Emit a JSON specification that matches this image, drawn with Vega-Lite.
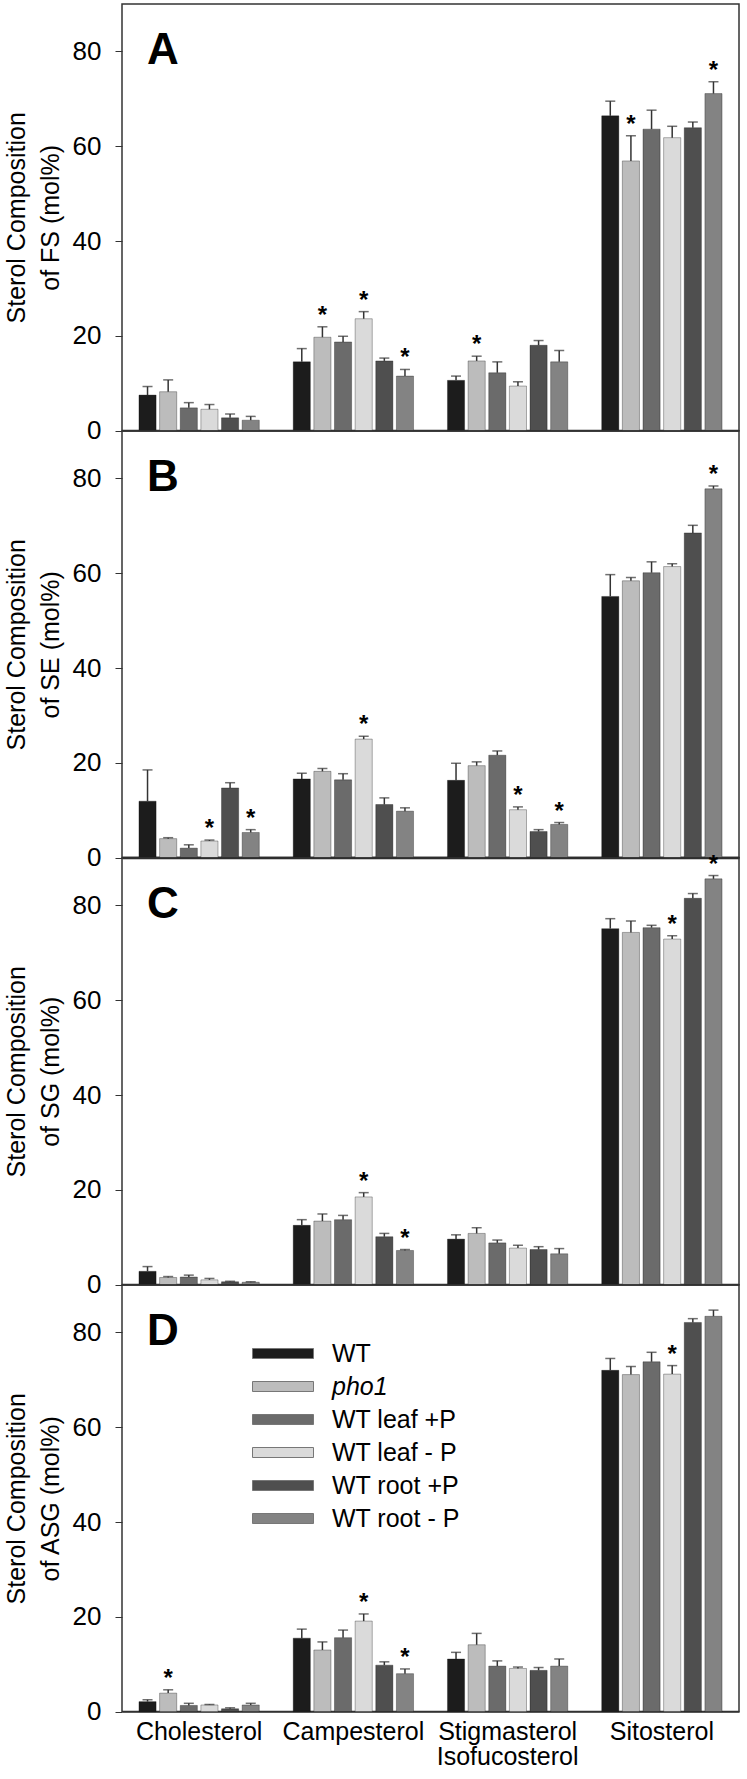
{
  "$schema": "https://vega.github.io/schema/vega-lite/v6.json",
  "padding": {"left": 3, "top": 3, "right": 4, "bottom": 2},
  "background": "white",
  "spacing": 0,
  "bounds": "flush",
  "config": {
    "font": "Liberation Sans",
    "view": {"stroke": "#333", "strokeWidth": 1.5},
    "axis": {"grid": false, "labelColor": "#000", "titleColor": "#000", "domainColor": "#333", "tickColor": "#333"}
  },
  "resolve": {"legend": {"color": "independent"}},
  "datasets": {
    "d": [
      {"panel": "A", "sterol": "Cholesterol", "line": "WT", "value": 7.5, "err": 9.3, "star": ""},
      {"panel": "A", "sterol": "Cholesterol", "line": "pho1", "value": 8.2, "err": 10.7, "star": ""},
      {"panel": "A", "sterol": "Cholesterol", "line": "WT leaf +P", "value": 4.8, "err": 5.9, "star": ""},
      {"panel": "A", "sterol": "Cholesterol", "line": "WT leaf - P", "value": 4.5, "err": 5.5, "star": ""},
      {"panel": "A", "sterol": "Cholesterol", "line": "WT root +P", "value": 2.7, "err": 3.5, "star": ""},
      {"panel": "A", "sterol": "Cholesterol", "line": "WT root - P", "value": 2.2, "err": 3.0, "star": ""},
      {"panel": "A", "sterol": "Campesterol", "line": "WT", "value": 14.5, "err": 17.3, "star": ""},
      {"panel": "A", "sterol": "Campesterol", "line": "pho1", "value": 19.7, "err": 21.9, "star": "*"},
      {"panel": "A", "sterol": "Campesterol", "line": "WT leaf +P", "value": 18.7, "err": 19.9, "star": ""},
      {"panel": "A", "sterol": "Campesterol", "line": "WT leaf - P", "value": 23.6, "err": 25.1, "star": "*"},
      {"panel": "A", "sterol": "Campesterol", "line": "WT root +P", "value": 14.7, "err": 15.3, "star": ""},
      {"panel": "A", "sterol": "Campesterol", "line": "WT root - P", "value": 11.5, "err": 12.9, "star": "*"},
      {"panel": "A", "sterol": "Stigmasterol Isofucosterol", "line": "WT", "value": 10.6, "err": 11.5, "star": ""},
      {"panel": "A", "sterol": "Stigmasterol Isofucosterol", "line": "pho1", "value": 14.7, "err": 15.7, "star": "*"},
      {"panel": "A", "sterol": "Stigmasterol Isofucosterol", "line": "WT leaf +P", "value": 12.2, "err": 14.5, "star": ""},
      {"panel": "A", "sterol": "Stigmasterol Isofucosterol", "line": "WT leaf - P", "value": 9.4, "err": 10.3, "star": ""},
      {"panel": "A", "sterol": "Stigmasterol Isofucosterol", "line": "WT root +P", "value": 18.0, "err": 19.0, "star": ""},
      {"panel": "A", "sterol": "Stigmasterol Isofucosterol", "line": "WT root - P", "value": 14.5, "err": 16.9, "star": ""},
      {"panel": "A", "sterol": "Sitosterol", "line": "WT", "value": 66.4, "err": 69.5, "star": ""},
      {"panel": "A", "sterol": "Sitosterol", "line": "pho1", "value": 56.9, "err": 62.2, "star": "*"},
      {"panel": "A", "sterol": "Sitosterol", "line": "WT leaf +P", "value": 63.6, "err": 67.6, "star": ""},
      {"panel": "A", "sterol": "Sitosterol", "line": "WT leaf - P", "value": 61.8, "err": 64.2, "star": ""},
      {"panel": "A", "sterol": "Sitosterol", "line": "WT root +P", "value": 63.9, "err": 65.1, "star": ""},
      {"panel": "A", "sterol": "Sitosterol", "line": "WT root - P", "value": 71.1, "err": 73.6, "star": "*"},

      {"panel": "B", "sterol": "Cholesterol", "line": "WT", "value": 11.9, "err": 18.5, "star": ""},
      {"panel": "B", "sterol": "Cholesterol", "line": "pho1", "value": 4.0, "err": 4.2, "star": ""},
      {"panel": "B", "sterol": "Cholesterol", "line": "WT leaf +P", "value": 2.0, "err": 2.7, "star": ""},
      {"panel": "B", "sterol": "Cholesterol", "line": "WT leaf - P", "value": 3.5, "err": 3.7, "star": "*"},
      {"panel": "B", "sterol": "Cholesterol", "line": "WT root +P", "value": 14.7, "err": 15.8, "star": ""},
      {"panel": "B", "sterol": "Cholesterol", "line": "WT root - P", "value": 5.3, "err": 5.9, "star": "*"},
      {"panel": "B", "sterol": "Campesterol", "line": "WT", "value": 16.6, "err": 17.8, "star": ""},
      {"panel": "B", "sterol": "Campesterol", "line": "pho1", "value": 18.2, "err": 18.8, "star": ""},
      {"panel": "B", "sterol": "Campesterol", "line": "WT leaf +P", "value": 16.4, "err": 17.7, "star": ""},
      {"panel": "B", "sterol": "Campesterol", "line": "WT leaf - P", "value": 25.0, "err": 25.6, "star": "*"},
      {"panel": "B", "sterol": "Campesterol", "line": "WT root +P", "value": 11.2, "err": 12.6, "star": ""},
      {"panel": "B", "sterol": "Campesterol", "line": "WT root - P", "value": 9.8, "err": 10.5, "star": ""},
      {"panel": "B", "sterol": "Stigmasterol Isofucosterol", "line": "WT", "value": 16.3, "err": 19.9, "star": ""},
      {"panel": "B", "sterol": "Stigmasterol Isofucosterol", "line": "pho1", "value": 19.4, "err": 20.2, "star": ""},
      {"panel": "B", "sterol": "Stigmasterol Isofucosterol", "line": "WT leaf +P", "value": 21.6, "err": 22.5, "star": ""},
      {"panel": "B", "sterol": "Stigmasterol Isofucosterol", "line": "WT leaf - P", "value": 10.1, "err": 10.7, "star": "*"},
      {"panel": "B", "sterol": "Stigmasterol Isofucosterol", "line": "WT root +P", "value": 5.5, "err": 5.9, "star": ""},
      {"panel": "B", "sterol": "Stigmasterol Isofucosterol", "line": "WT root - P", "value": 7.0, "err": 7.4, "star": "*"},
      {"panel": "B", "sterol": "Sitosterol", "line": "WT", "value": 55.1, "err": 59.7, "star": ""},
      {"panel": "B", "sterol": "Sitosterol", "line": "pho1", "value": 58.4, "err": 59.1, "star": ""},
      {"panel": "B", "sterol": "Sitosterol", "line": "WT leaf +P", "value": 60.1, "err": 62.4, "star": ""},
      {"panel": "B", "sterol": "Sitosterol", "line": "WT leaf - P", "value": 61.4, "err": 62.0, "star": ""},
      {"panel": "B", "sterol": "Sitosterol", "line": "WT root +P", "value": 68.5, "err": 70.1, "star": ""},
      {"panel": "B", "sterol": "Sitosterol", "line": "WT root - P", "value": 77.8, "err": 78.4, "star": "*"},

      {"panel": "C", "sterol": "Cholesterol", "line": "WT", "value": 2.8, "err": 3.8, "star": ""},
      {"panel": "C", "sterol": "Cholesterol", "line": "pho1", "value": 1.5, "err": 1.7, "star": ""},
      {"panel": "C", "sterol": "Cholesterol", "line": "WT leaf +P", "value": 1.6, "err": 2.0, "star": ""},
      {"panel": "C", "sterol": "Cholesterol", "line": "WT leaf - P", "value": 1.0, "err": 1.3, "star": ""},
      {"panel": "C", "sterol": "Cholesterol", "line": "WT root +P", "value": 0.6, "err": 0.7, "star": ""},
      {"panel": "C", "sterol": "Cholesterol", "line": "WT root - P", "value": 0.5, "err": 0.6, "star": ""},
      {"panel": "C", "sterol": "Campesterol", "line": "WT", "value": 12.5, "err": 13.7, "star": ""},
      {"panel": "C", "sterol": "Campesterol", "line": "pho1", "value": 13.4, "err": 14.9, "star": ""},
      {"panel": "C", "sterol": "Campesterol", "line": "WT leaf +P", "value": 13.7, "err": 14.6, "star": ""},
      {"panel": "C", "sterol": "Campesterol", "line": "WT leaf - P", "value": 18.5, "err": 19.4, "star": "*"},
      {"panel": "C", "sterol": "Campesterol", "line": "WT root +P", "value": 10.1, "err": 10.8, "star": ""},
      {"panel": "C", "sterol": "Campesterol", "line": "WT root - P", "value": 7.2, "err": 7.4, "star": "*"},
      {"panel": "C", "sterol": "Stigmasterol Isofucosterol", "line": "WT", "value": 9.6, "err": 10.5, "star": ""},
      {"panel": "C", "sterol": "Stigmasterol Isofucosterol", "line": "pho1", "value": 10.8, "err": 12.0, "star": ""},
      {"panel": "C", "sterol": "Stigmasterol Isofucosterol", "line": "WT leaf +P", "value": 8.8, "err": 9.4, "star": ""},
      {"panel": "C", "sterol": "Stigmasterol Isofucosterol", "line": "WT leaf - P", "value": 7.7, "err": 8.3, "star": ""},
      {"panel": "C", "sterol": "Stigmasterol Isofucosterol", "line": "WT root +P", "value": 7.4, "err": 8.0, "star": ""},
      {"panel": "C", "sterol": "Stigmasterol Isofucosterol", "line": "WT root - P", "value": 6.5, "err": 7.6, "star": ""},
      {"panel": "C", "sterol": "Sitosterol", "line": "WT", "value": 75.1, "err": 77.2, "star": ""},
      {"panel": "C", "sterol": "Sitosterol", "line": "pho1", "value": 74.3, "err": 76.7, "star": ""},
      {"panel": "C", "sterol": "Sitosterol", "line": "WT leaf +P", "value": 75.3, "err": 75.8, "star": ""},
      {"panel": "C", "sterol": "Sitosterol", "line": "WT leaf - P", "value": 72.9, "err": 73.6, "star": "*"},
      {"panel": "C", "sterol": "Sitosterol", "line": "WT root +P", "value": 81.5, "err": 82.5, "star": ""},
      {"panel": "C", "sterol": "Sitosterol", "line": "WT root - P", "value": 85.6, "err": 86.3, "star": "*"},

      {"panel": "D", "sterol": "Cholesterol", "line": "WT", "value": 2.1, "err": 2.5, "star": ""},
      {"panel": "D", "sterol": "Cholesterol", "line": "pho1", "value": 3.9, "err": 4.6, "star": "*"},
      {"panel": "D", "sterol": "Cholesterol", "line": "WT leaf +P", "value": 1.3, "err": 1.75, "star": ""},
      {"panel": "D", "sterol": "Cholesterol", "line": "WT leaf - P", "value": 1.4, "err": 1.5, "star": ""},
      {"panel": "D", "sterol": "Cholesterol", "line": "WT root +P", "value": 0.6, "err": 0.8, "star": ""},
      {"panel": "D", "sterol": "Cholesterol", "line": "WT root - P", "value": 1.4, "err": 1.75, "star": ""},
      {"panel": "D", "sterol": "Campesterol", "line": "WT", "value": 15.5, "err": 17.4, "star": ""},
      {"panel": "D", "sterol": "Campesterol", "line": "pho1", "value": 13.0, "err": 14.7, "star": ""},
      {"panel": "D", "sterol": "Campesterol", "line": "WT leaf +P", "value": 15.6, "err": 17.2, "star": ""},
      {"panel": "D", "sterol": "Campesterol", "line": "WT leaf - P", "value": 19.1, "err": 20.6, "star": "*"},
      {"panel": "D", "sterol": "Campesterol", "line": "WT root +P", "value": 9.8, "err": 10.5, "star": ""},
      {"panel": "D", "sterol": "Campesterol", "line": "WT root - P", "value": 8.0, "err": 9.0, "star": "*"},
      {"panel": "D", "sterol": "Stigmasterol Isofucosterol", "line": "WT", "value": 11.1, "err": 12.5, "star": ""},
      {"panel": "D", "sterol": "Stigmasterol Isofucosterol", "line": "pho1", "value": 14.1, "err": 16.5, "star": ""},
      {"panel": "D", "sterol": "Stigmasterol Isofucosterol", "line": "WT leaf +P", "value": 9.6, "err": 10.7, "star": ""},
      {"panel": "D", "sterol": "Stigmasterol Isofucosterol", "line": "WT leaf - P", "value": 9.1, "err": 9.4, "star": ""},
      {"panel": "D", "sterol": "Stigmasterol Isofucosterol", "line": "WT root +P", "value": 8.7, "err": 9.3, "star": ""},
      {"panel": "D", "sterol": "Stigmasterol Isofucosterol", "line": "WT root - P", "value": 9.6, "err": 11.1, "star": ""},
      {"panel": "D", "sterol": "Sitosterol", "line": "WT", "value": 72.0, "err": 74.5, "star": ""},
      {"panel": "D", "sterol": "Sitosterol", "line": "pho1", "value": 71.1, "err": 72.8, "star": ""},
      {"panel": "D", "sterol": "Sitosterol", "line": "WT leaf +P", "value": 73.8, "err": 75.8, "star": ""},
      {"panel": "D", "sterol": "Sitosterol", "line": "WT leaf - P", "value": 71.2, "err": 73.0, "star": "*"},
      {"panel": "D", "sterol": "Sitosterol", "line": "WT root +P", "value": 82.1, "err": 82.9, "star": ""},
      {"panel": "D", "sterol": "Sitosterol", "line": "WT root - P", "value": 83.4, "err": 84.7, "star": ""}
    ]
  },
  "vconcat": [
    {
      "width": 617, "height": 426.6,
      "data": {"name": "d"},
      "transform": [{"filter": "datum.panel == 'A'"}],
      "encoding": {
        "x": {"field": "sterol", "type": "nominal", "sort": ["Cholesterol", "Campesterol", "Stigmasterol Isofucosterol", "Sitosterol"], "scale": {"paddingInner": 0.22, "paddingOuter": 0.11}, "axis": {"title": null, "labels": false, "ticks": false, "domainWidth": 1.5}},
        "y": {"field": "value", "type": "quantitative", "scale": {"domain": [0, 90], "nice": false}, "axis": {"values": [0, 20, 40, 60, 80], "title": ["Sterol Composition", "of FS (mol%)"], "labelFontSize": 26, "titleFontSize": 25, "titleFontWeight": "normal", "titleLineHeight": 34, "tickSize": 7, "labelPadding": 14, "titlePadding": 9, "domain": false}}
      },
      "layer": [
        {"mark": {"type": "bar", "stroke": "#000", "strokeOpacity": 0.3, "strokeWidth": 1}, "encoding": {"xOffset": {"field": "line", "type": "nominal", "sort": ["WT", "pho1", "WT leaf +P", "WT leaf - P", "WT root +P", "WT root - P"], "scale": {"paddingInner": 0.17, "paddingOuter": 0}}, "color": {"field": "line", "type": "nominal", "sort": ["WT", "pho1", "WT leaf +P", "WT leaf - P", "WT root +P", "WT root - P"], "scale": {"domain": ["WT", "pho1", "WT leaf +P", "WT leaf - P", "WT root +P", "WT root - P"], "range": ["#1c1c1c", "#bcbcbc", "#6b6b6b", "#dadada", "#4f4f4f", "#838383"]}, "legend": null}}},
        {"mark": {"type": "rule", "color": "#333", "strokeWidth": 1.5}, "encoding": {"xOffset": {"field": "line", "type": "nominal", "sort": ["WT", "pho1", "WT leaf +P", "WT leaf - P", "WT root +P", "WT root - P"]}, "y2": {"field": "err"}}},
        {"mark": {"type": "tick", "color": "#333", "thickness": 1.5, "size": 10}, "encoding": {"xOffset": {"field": "line", "type": "nominal", "sort": ["WT", "pho1", "WT leaf +P", "WT leaf - P", "WT root +P", "WT root - P"]}, "y": {"field": "err", "type": "quantitative"}}},
        {"mark": {"type": "text", "fontSize": 24, "fontWeight": "bold", "baseline": "alphabetic", "dy": -4, "color": "#000"}, "encoding": {"xOffset": {"field": "line", "type": "nominal", "sort": ["WT", "pho1", "WT leaf +P", "WT leaf - P", "WT root +P", "WT root - P"]}, "y": {"field": "err", "type": "quantitative"}, "text": {"field": "star"}}},
        {"transform": [{"filter": "datum.sterol == 'Cholesterol' && datum.line == 'WT'"}], "mark": {"type": "text", "fontSize": 44, "fontWeight": "bold", "align": "left", "baseline": "alphabetic", "dx": 8, "color": "#000"}, "encoding": {"x": {"field": "sterol", "type": "nominal", "bandPosition": 0}, "y": {"datum": 77.4}, "text": {"field": "panel"}}}
      ]
    },
    {
      "width": 617, "height": 426.6,
      "data": {"name": "d"},
      "transform": [{"filter": "datum.panel == 'B'"}],
      "encoding": {
        "x": {"field": "sterol", "type": "nominal", "sort": ["Cholesterol", "Campesterol", "Stigmasterol Isofucosterol", "Sitosterol"], "scale": {"paddingInner": 0.22, "paddingOuter": 0.11}, "axis": {"title": null, "labels": false, "ticks": false, "domainWidth": 2.5, "domainColor": "#222"}},
        "y": {"field": "value", "type": "quantitative", "scale": {"domain": [0, 90], "nice": false}, "axis": {"values": [0, 20, 40, 60, 80], "title": ["Sterol Composition", "of SE (mol%)"], "labelFontSize": 26, "titleFontSize": 25, "titleFontWeight": "normal", "titleLineHeight": 34, "tickSize": 7, "labelPadding": 14, "titlePadding": 9, "domain": false}}
      },
      "layer": [
        {"mark": {"type": "bar", "stroke": "#000", "strokeOpacity": 0.3, "strokeWidth": 1}, "encoding": {"xOffset": {"field": "line", "type": "nominal", "sort": ["WT", "pho1", "WT leaf +P", "WT leaf - P", "WT root +P", "WT root - P"], "scale": {"paddingInner": 0.17, "paddingOuter": 0}}, "color": {"field": "line", "type": "nominal", "sort": ["WT", "pho1", "WT leaf +P", "WT leaf - P", "WT root +P", "WT root - P"], "scale": {"domain": ["WT", "pho1", "WT leaf +P", "WT leaf - P", "WT root +P", "WT root - P"], "range": ["#1c1c1c", "#bcbcbc", "#6b6b6b", "#dadada", "#4f4f4f", "#838383"]}, "legend": null}}},
        {"mark": {"type": "rule", "color": "#333", "strokeWidth": 1.5}, "encoding": {"xOffset": {"field": "line", "type": "nominal", "sort": ["WT", "pho1", "WT leaf +P", "WT leaf - P", "WT root +P", "WT root - P"]}, "y2": {"field": "err"}}},
        {"mark": {"type": "tick", "color": "#333", "thickness": 1.5, "size": 10}, "encoding": {"xOffset": {"field": "line", "type": "nominal", "sort": ["WT", "pho1", "WT leaf +P", "WT leaf - P", "WT root +P", "WT root - P"]}, "y": {"field": "err", "type": "quantitative"}}},
        {"mark": {"type": "text", "fontSize": 24, "fontWeight": "bold", "baseline": "alphabetic", "dy": -4, "color": "#000"}, "encoding": {"xOffset": {"field": "line", "type": "nominal", "sort": ["WT", "pho1", "WT leaf +P", "WT leaf - P", "WT root +P", "WT root - P"]}, "y": {"field": "err", "type": "quantitative"}, "text": {"field": "star"}}},
        {"transform": [{"filter": "datum.sterol == 'Cholesterol' && datum.line == 'WT'"}], "mark": {"type": "text", "fontSize": 44, "fontWeight": "bold", "align": "left", "baseline": "alphabetic", "dx": 8, "color": "#000"}, "encoding": {"x": {"field": "sterol", "type": "nominal", "bandPosition": 0}, "y": {"datum": 77.4}, "text": {"field": "panel"}}}
      ]
    },
    {
      "width": 617, "height": 426.6,
      "data": {"name": "d"},
      "transform": [{"filter": "datum.panel == 'C'"}],
      "encoding": {
        "x": {"field": "sterol", "type": "nominal", "sort": ["Cholesterol", "Campesterol", "Stigmasterol Isofucosterol", "Sitosterol"], "scale": {"paddingInner": 0.22, "paddingOuter": 0.11}, "axis": {"title": null, "labels": false, "ticks": false, "domainWidth": 1.5}},
        "y": {"field": "value", "type": "quantitative", "scale": {"domain": [0, 90], "nice": false}, "axis": {"values": [0, 20, 40, 60, 80], "title": ["Sterol Composition", "of SG (mol%)"], "labelFontSize": 26, "titleFontSize": 25, "titleFontWeight": "normal", "titleLineHeight": 34, "tickSize": 7, "labelPadding": 14, "titlePadding": 9, "domain": false}}
      },
      "layer": [
        {"mark": {"type": "bar", "stroke": "#000", "strokeOpacity": 0.3, "strokeWidth": 1}, "encoding": {"xOffset": {"field": "line", "type": "nominal", "sort": ["WT", "pho1", "WT leaf +P", "WT leaf - P", "WT root +P", "WT root - P"], "scale": {"paddingInner": 0.17, "paddingOuter": 0}}, "color": {"field": "line", "type": "nominal", "sort": ["WT", "pho1", "WT leaf +P", "WT leaf - P", "WT root +P", "WT root - P"], "scale": {"domain": ["WT", "pho1", "WT leaf +P", "WT leaf - P", "WT root +P", "WT root - P"], "range": ["#1c1c1c", "#bcbcbc", "#6b6b6b", "#dadada", "#4f4f4f", "#838383"]}, "legend": null}}},
        {"mark": {"type": "rule", "color": "#333", "strokeWidth": 1.5}, "encoding": {"xOffset": {"field": "line", "type": "nominal", "sort": ["WT", "pho1", "WT leaf +P", "WT leaf - P", "WT root +P", "WT root - P"]}, "y2": {"field": "err"}}},
        {"mark": {"type": "tick", "color": "#333", "thickness": 1.5, "size": 10}, "encoding": {"xOffset": {"field": "line", "type": "nominal", "sort": ["WT", "pho1", "WT leaf +P", "WT leaf - P", "WT root +P", "WT root - P"]}, "y": {"field": "err", "type": "quantitative"}}},
        {"mark": {"type": "text", "fontSize": 24, "fontWeight": "bold", "baseline": "alphabetic", "dy": -4, "color": "#000"}, "encoding": {"xOffset": {"field": "line", "type": "nominal", "sort": ["WT", "pho1", "WT leaf +P", "WT leaf - P", "WT root +P", "WT root - P"]}, "y": {"field": "err", "type": "quantitative"}, "text": {"field": "star"}}},
        {"transform": [{"filter": "datum.sterol == 'Cholesterol' && datum.line == 'WT'"}], "mark": {"type": "text", "fontSize": 44, "fontWeight": "bold", "align": "left", "baseline": "alphabetic", "dx": 8, "color": "#000"}, "encoding": {"x": {"field": "sterol", "type": "nominal", "bandPosition": 0}, "y": {"datum": 77.4}, "text": {"field": "panel"}}}
      ]
    },
    {
      "width": 617, "height": 426.6,
      "data": {"name": "d"},
      "transform": [{"filter": "datum.panel == 'D'"}],
      "encoding": {
        "x": {"field": "sterol", "type": "nominal", "sort": ["Cholesterol", "Campesterol", "Stigmasterol Isofucosterol", "Sitosterol"], "scale": {"paddingInner": 0.22, "paddingOuter": 0.11}, "axis": {"title": null, "labelFontSize": 25, "labelAngle": 0, "labelPadding": 8, "labelLineHeight": 25, "ticks": false, "domainWidth": 1.5, "labelExpr": "datum.value == 'Stigmasterol Isofucosterol' ? ['Stigmasterol', 'Isofucosterol'] : datum.value"}},
        "y": {"field": "value", "type": "quantitative", "scale": {"domain": [0, 90], "nice": false}, "axis": {"values": [0, 20, 40, 60, 80], "title": ["Sterol Composition", "of ASG (mol%)"], "labelFontSize": 26, "titleFontSize": 25, "titleFontWeight": "normal", "titleLineHeight": 34, "tickSize": 7, "labelPadding": 14, "titlePadding": 9, "domain": false}}
      },
      "layer": [
        {"mark": {"type": "bar", "stroke": "#000", "strokeOpacity": 0.3, "strokeWidth": 1}, "encoding": {"xOffset": {"field": "line", "type": "nominal", "sort": ["WT", "pho1", "WT leaf +P", "WT leaf - P", "WT root +P", "WT root - P"], "scale": {"paddingInner": 0.17, "paddingOuter": 0}}, "color": {"field": "line", "type": "nominal", "sort": ["WT", "pho1", "WT leaf +P", "WT leaf - P", "WT root +P", "WT root - P"], "scale": {"domain": ["WT", "pho1", "WT leaf +P", "WT leaf - P", "WT root +P", "WT root - P"], "range": ["#1c1c1c", "#bcbcbc", "#6b6b6b", "#dadada", "#4f4f4f", "#838383"]}, "legend": {"orient": "none", "legendX": 148.5, "legendY": 56, "title": null, "labelFontSize": 25, "labelColor": "#000", "symbolType": "M-3.05,-0.5H3.05V0.5H-3.05Z", "symbolSize": 400, "symbolStrokeColor": "#777", "symbolStrokeWidth": 1, "symbolOpacity": 1, "labelOffset": 36.5, "rowPadding": 7, "labelLimit": 300, "labelBaseline": "middle", "encode": {"labels": {"update": {"fontStyle": {"signal": "datum.value == 'pho1' ? 'italic' : 'normal'"}}}}}}}},
        {"mark": {"type": "rule", "color": "#333", "strokeWidth": 1.5}, "encoding": {"xOffset": {"field": "line", "type": "nominal", "sort": ["WT", "pho1", "WT leaf +P", "WT leaf - P", "WT root +P", "WT root - P"]}, "y2": {"field": "err"}}},
        {"mark": {"type": "tick", "color": "#333", "thickness": 1.5, "size": 10}, "encoding": {"xOffset": {"field": "line", "type": "nominal", "sort": ["WT", "pho1", "WT leaf +P", "WT leaf - P", "WT root +P", "WT root - P"]}, "y": {"field": "err", "type": "quantitative"}}},
        {"mark": {"type": "text", "fontSize": 24, "fontWeight": "bold", "baseline": "alphabetic", "dy": -4, "color": "#000"}, "encoding": {"xOffset": {"field": "line", "type": "nominal", "sort": ["WT", "pho1", "WT leaf +P", "WT leaf - P", "WT root +P", "WT root - P"]}, "y": {"field": "err", "type": "quantitative"}, "text": {"field": "star"}}},
        {"transform": [{"filter": "datum.sterol == 'Cholesterol' && datum.line == 'WT'"}], "mark": {"type": "text", "fontSize": 44, "fontWeight": "bold", "align": "left", "baseline": "alphabetic", "dx": 8, "color": "#000"}, "encoding": {"x": {"field": "sterol", "type": "nominal", "bandPosition": 0}, "y": {"datum": 77.4}, "text": {"field": "panel"}}}
      ]
    }
  ]
}
